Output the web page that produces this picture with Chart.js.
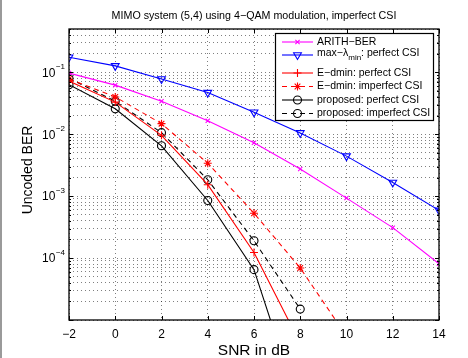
<!DOCTYPE html>
<html>
<head>
<meta charset="utf-8">
<script src="https://cdn.jsdelivr.net/npm/chart.js@4/dist/chart.umd.min.js"></script>
<style>
  html, body { margin:0; padding:0; background:#fff; }
  #wrap { width:468px; height:358px; position:relative; }
</style>
</head>
<body>
<div id="wrap"><canvas id="berChart" width="468" height="358"></canvas></div>
<script>
// =======================
// DATA
// =======================
const snr = [-2, 0, 2, 4, 6, 8, 10, 12, 14];
const xTicks = [-2, 0, 2, 4, 6, 8, 10, 12, 14];
const yDecades = [1e-5, 1e-4, 1e-3, 1e-2, 1e-1];
const yLabelDecades = [1e-4, 1e-3, 1e-2, 1e-1];

const arithBer       = [0.097, 0.062, 0.034, 0.0165, 0.0073, 0.00275, 0.00093, 0.00031, 8.1e-5];
const maxLambdaMin   = [0.175, 0.127, 0.078, 0.047, 0.0226, 0.0105, 0.00443, 0.00166, 0.00059];
const edminPerfect   = [0.072, 0.033, 0.0096, 0.00153, 1.23e-4, 4.2e-6, null, null, null];
const edminImperfect = [0.078, 0.040, 0.0148, 0.0034, 5.3e-4, 6.9e-5, 5.5e-6, null, null];
const propPerfect    = [0.063, 0.0257, 0.0065, 0.00085, 6.5e-5, 3.4e-7, null, null, null];
const propImperfect  = [0.080, 0.034, 0.0106, 0.00184, 1.9e-4, 1.5e-5, null, null, null];

const titleText = "MIMO system (5,4) using 4\u2212QAM modulation, imperfect CSI";
const xTitle = "SNR in dB";
const yTitle = "Uncoded BER";

// =======================
// HELPERS
// =======================
const FONT = "'Liberation Sans', Arial, Helvetica, sans-serif";

function toPoints(vals){
  return snr.map((x,i)=>({x:x, y:vals[i]})).filter(p=>p.y !== null);
}

function series(label, vals, color, style, dashed, radius, rotation){
  return {
    label: label,
    data: toPoints(vals),
    borderColor: color,
    backgroundColor: "transparent",
    pointBorderColor: color,
    pointBackgroundColor: "transparent",
    borderWidth: 1.1,
    pointBorderWidth: 1.1,
    pointStyle: style,
    pointRadius: radius,
    pointRotation: rotation || 0,
    borderDash: dashed ? [5,4] : [],
    tension: 0,
    fill: false
  };
}

// y ticks: 1..9 x 10^e, up to 0.5
function buildYTicks(){
  const t = [];
  for(let e=-5; e<=-1; e++){
    for(let m=1; m<=9; m++){
      const v = m * Math.pow(10, e);
      if(v <= 0.5 + 1e-12) t.push({value: v});
    }
  }
  return t;
}

// =======================
// DRAWING PLUGIN
// =======================
const decorPlugin = {
  id: "decor",
  afterDraw(chart){
    const ctx = chart.ctx;
    const a = chart.chartArea;
    const xs = chart.scales.x, ys = chart.scales.y;
    ctx.save();

    // outer gray frame line on left
    ctx.fillStyle = "#9a9a9a";
    ctx.fillRect(0, 0, 2, 358);

    // axes box
    ctx.strokeStyle = "#000";
    ctx.lineWidth = 1.3;
    ctx.strokeRect(a.left, a.top, a.right - a.left, a.bottom - a.top);

    // inward tick marks
    ctx.lineWidth = 1;
    ctx.beginPath();
    xTicks.forEach(v=>{
      const px = Math.round(xs.getPixelForValue(v)) + 0.5;
      ctx.moveTo(px, a.bottom); ctx.lineTo(px, a.bottom - 4);
      ctx.moveTo(px, a.top); ctx.lineTo(px, a.top + 4);
    });
    ys.ticks.forEach(t=>{
      const py = Math.round(ys.getPixelForValue(t.value)) + 0.5;
      const major = yDecades.some(d=>Math.abs(d - t.value) / d < 1e-6);
      const len = major ? 4 : 2;
      ctx.moveTo(a.left, py); ctx.lineTo(a.left + len, py);
      ctx.moveTo(a.right, py); ctx.lineTo(a.right - len, py);
    });
    ctx.stroke();

    // y tick labels 10^n
    ctx.fillStyle = "#000";
    ctx.textBaseline = "middle";
    yLabelDecades.forEach(d=>{
      const py = ys.getPixelForValue(d);
      const exp = "\u2212" + Math.round(-Math.log10(d));
      ctx.font = "8px " + FONT;
      const ew = ctx.measureText(exp).width;
      ctx.textAlign = "left";
      const right = a.left - 4;
      ctx.fillText(exp, right - ew, py - 5);
      ctx.font = "12px " + FONT;
      ctx.textAlign = "right";
      ctx.fillText("10", right - ew - 0.5, py + 1);
    });

    // title
    ctx.font = "10.7px " + FONT;
    ctx.textAlign = "center";
    ctx.fillText(titleText, (a.left + a.right) / 2, 16);

    // x axis title
    ctx.font = "15.5px " + FONT;
    ctx.fillText(xTitle, (a.left + a.right) / 2, 351);

    // y axis title
    ctx.save();
    ctx.translate(28, 170);
    ctx.rotate(-Math.PI / 2);
    ctx.font = "14px " + FONT;
    ctx.fillText(yTitle, 0, 0);
    ctx.restore();

    // legend
    const lx = 275, ly = 33, lw = 158, lh = 87;
    ctx.fillStyle = "#fff";
    ctx.fillRect(lx, ly, lw, lh);
    ctx.strokeStyle = "#000";
    ctx.lineWidth = 1.2;
    ctx.strokeRect(lx + 0.5, ly + 0.5, lw, lh);

    const rows = [42, 55, 73, 86.5, 100, 113.5];
    chart.data.datasets.forEach((ds, i)=>{
      const y = rows[i];
      ctx.save();
      ctx.strokeStyle = ds.borderColor;
      ctx.fillStyle = "rgba(0,0,0,0)";
      ctx.lineWidth = ds.borderWidth;
      ctx.setLineDash(ds.borderDash);
      ctx.beginPath();
      ctx.moveTo(282, y); ctx.lineTo(313, y);
      ctx.stroke();
      ctx.setLineDash([]);
      Chart.helpers.drawPoint(ctx, {
        pointStyle: ds.pointStyle,
        rotation: ds.pointRotation,
        radius: ds.pointRadius,
        borderWidth: ds.pointBorderWidth
      }, 297.5, y);
      ctx.restore();

      ctx.fillStyle = "#000";
      ctx.textAlign = "left";
      ctx.textBaseline = "middle";
      ctx.font = "10.5px " + FONT;
      const parts = ds.label.split("_min");
      if(parts.length === 2){
        ctx.fillText(parts[0], 317, y - 2);
        let w = ctx.measureText(parts[0]).width;
        ctx.font = "8px " + FONT;
        ctx.fillText("min", 317 + w, y + 3);
        const w2 = ctx.measureText("min").width;
        ctx.font = "10.5px " + FONT;
        ctx.fillText(parts[1], 317 + w + w2, y - 2);
      } else {
        ctx.fillText(ds.label, 317, y);
      }
    });

    ctx.restore();
  }
};

// =======================
// CHART
// =======================
const ctxEl = document.getElementById("berChart");

const datasets = [
  series("ARITH\u2212BER", arithBer, "#ff00ff", "crossRot", false, 3),
  series("max\u2212\u03bb_min: perfect CSI", maxLambdaMin, "#0000ff", "triangle", false, 4.5, 180),
  series("E\u2212dmin: perfect CSI", edminPerfect, "#ff0000", "cross", false, 4),
  series("E\u2212dmin: imperfect CSI", edminImperfect, "#ff0000", "star", true, 4),
  series("proposed: perfect CSI", propPerfect, "#000000", "circle", false, 4),
  series("proposed: imperfect CSI", propImperfect, "#000000", "circle", true, 4)
];

const gridStyle = {
  display: true,
  drawTicks: false,
  drawOnChartArea: true,
  color: "rgba(0,0,0,0.5)",
  lineWidth: 1
};

new Chart(ctxEl, {
  type: "line",
  data: { datasets: datasets },
  options: {
    responsive: false,
    animation: false,
    devicePixelRatio: 1,
    layout: { padding: { top: 29, right: 29, left: 0, bottom: 0 } },
    plugins: {
      legend: { display: false },
      title: { display: false },
      tooltip: { enabled: false }
    },
    scales: {
      x: {
        type: "linear",
        min: -2,
        max: 14,
        afterBuildTicks: s => { s.ticks = xTicks.map(v=>({value:v})); },
        afterFit: s => { s.height = 38; },
        grid: gridStyle,
        border: { display: false, dash: [1, 3] },
        ticks: {
          color: "#000",
          font: { family: FONT, size: 12 },
          padding: 7,
          maxRotation: 0,
          callback: v => v < 0 ? "\u2212" + Math.abs(v) : String(v)
        }
      },
      y: {
        type: "logarithmic",
        min: 1e-5,
        max: 0.5,
        afterBuildTicks: s => { s.ticks = buildYTicks(); },
        afterFit: s => { s.width = 69; },
        grid: gridStyle,
        border: { display: false, dash: [1, 3] },
        ticks: { display: false }
      }
    }
  },
  plugins: [decorPlugin]
});
</script>
</body>
</html>
